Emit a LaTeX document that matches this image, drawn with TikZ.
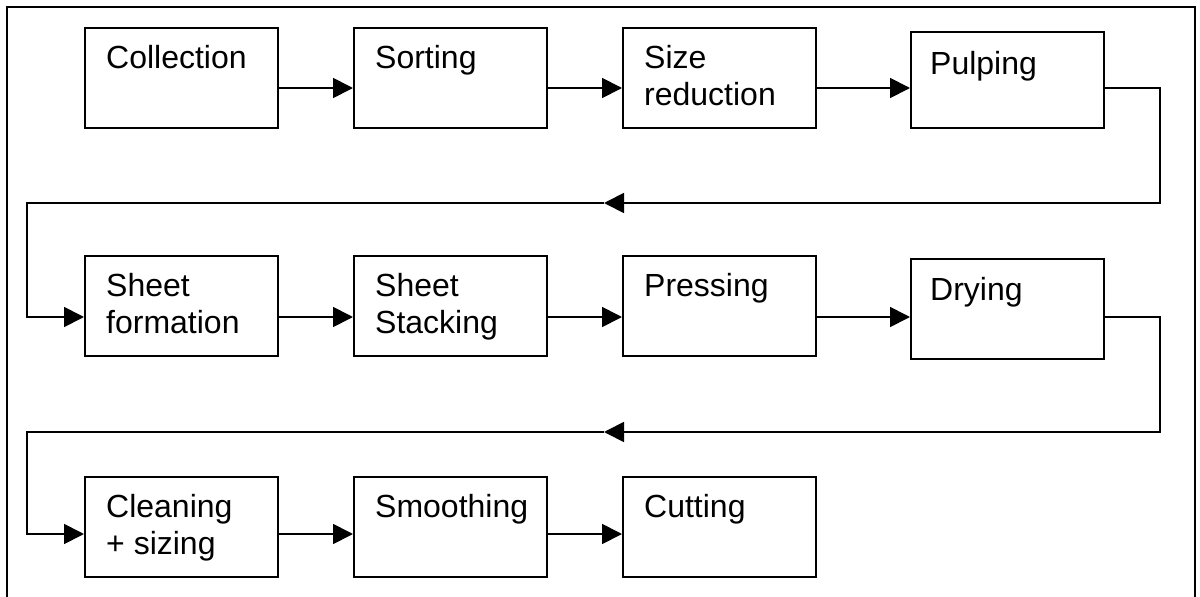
\documentclass[tikz,border=0pt]{standalone}
\usepackage{fontspec}
\setmainfont{Liberation Sans}
\usetikzlibrary{arrows.meta}
\begin{document}
\begin{tikzpicture}[x=1pt,y=-1pt,
  box/.style={draw, line width=1.8pt, minimum width=193pt, minimum height=100pt, anchor=north west, inner sep=0pt},
  lbl/.style={anchor=north west, inner sep=0pt, align=left, font=\fontsize{32}{37}\selectfont},
  conn/.style={line width=1.8pt},
  tip/.style={-{Triangle[length=20pt,width=20pt]}},
  frame/.style={line width=2.5pt}]
\useasboundingbox (0,0) rectangle (1200,597);
\draw[frame] (7,600) -- (7,7) -- (1195,7) -- (1195,600);
% row 1
\node[box] (coll) at (84,27) {};
\node[box] (sort) at (353,27) {};
\node[box] (size) at (622,27) {};
\node[box, minimum height=96pt] (pulp) at (910,31) {};
% row 2
\node[box] (sf) at (84,255) {};
\node[box] (ss) at (353,255) {};
\node[box] (press) at (622,255) {};
\node[box] (dry) at (910,258) {};
% row 3
\node[box] (clean) at (84,476) {};
\node[box] (smooth) at (353,476) {};
\node[box] (cut) at (622,476) {};
% labels
\node[lbl] (collT) at ([xshift=22pt,yshift=-18pt]coll.north west) {Collection};
\node[lbl] (sortT) at ([xshift=22pt,yshift=-18pt]sort.north west) {Sorting};
\node[lbl] (sizeT) at ([xshift=22pt,yshift=-18pt]size.north west) {Size\\reduction};
\node[lbl] (pulpT) at ([xshift=20pt,yshift=-20pt]pulp.north west) {Pulping};
\node[lbl] (sfT) at ([xshift=22pt,yshift=-18pt]sf.north west) {Sheet\\formation};
\node[lbl] (ssT) at ([xshift=22pt,yshift=-18pt]ss.north west) {Sheet\\Stacking};
\node[lbl] (pressT) at ([xshift=22pt,yshift=-18pt]press.north west) {Pressing};
\node[lbl] (dryT) at ([xshift=20pt,yshift=-19pt]dry.north west) {Drying};
\node[lbl] (cleanT) at ([xshift=22pt,yshift=-18pt]clean.north west) {Cleaning\\+ sizing};
\node[lbl] (smoothT) at ([xshift=22pt,yshift=-18pt]smooth.north west) {Smoothing};
\node[lbl] (cutT) at ([xshift=22pt,yshift=-18pt]cut.north west) {Cutting};
% arrow rows
\coordinate (r1) at (0,88);
\coordinate (r2) at (0,317);
\coordinate (r3) at (0,534);
\draw[conn,tip] (coll.east |- r1) -- (sort.west |- r1);
\draw[conn,tip] (sort.east |- r1) -- (size.west |- r1);
\draw[conn,tip] (size.east |- r1) -- (pulp.west |- r1);
\draw[conn,tip] (sf.east |- r2) -- (ss.west |- r2);
\draw[conn,tip] (ss.east |- r2) -- (press.west |- r2);
\draw[conn,tip] (press.east |- r2) -- (dry.west |- r2);
\draw[conn,tip] (clean.east |- r3) -- (smooth.west |- r3);
\draw[conn,tip] (smooth.east |- r3) -- (cut.west |- r3);
% return connectors
\coordinate (c1) at (1160,203);
\coordinate (m1) at (604,203);
\coordinate (d1) at (27,203);
\draw[conn,tip] (pulp.east |- r1) -| (c1) -- (m1);
\draw[conn,tip] (m1) -- (d1) |- (sf.west |- r2);
\coordinate (c2) at (1160,432);
\coordinate (m2) at (604,432);
\coordinate (d2) at (27,432);
\draw[conn,tip] (dry.east |- r2) -| (c2) -- (m2);
\draw[conn,tip] (m2) -- (d2) |- (clean.west |- r3);
\end{tikzpicture}
\end{document}
